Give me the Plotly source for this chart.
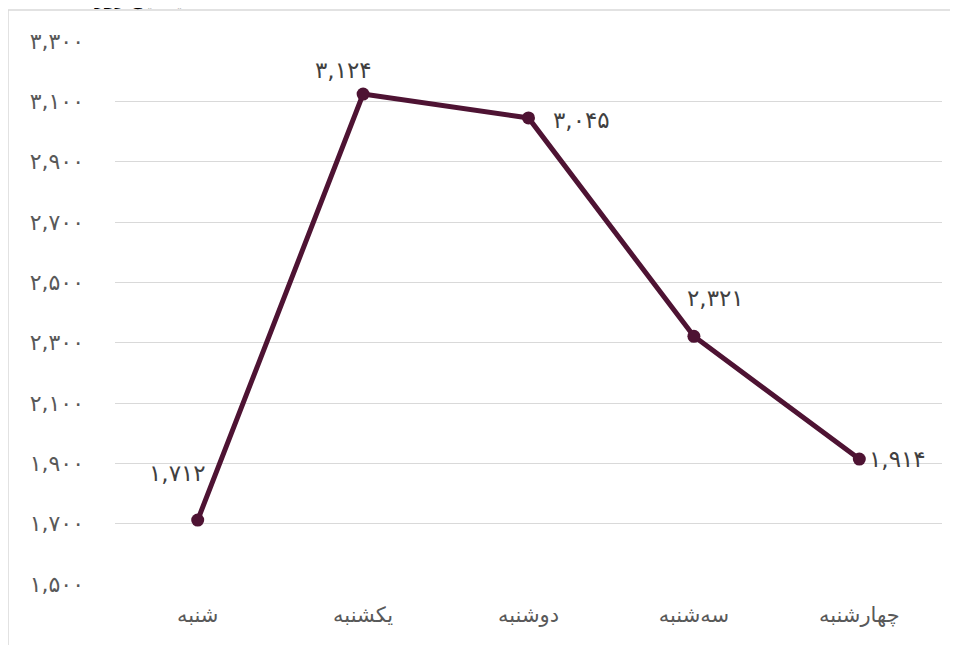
import plotly.graph_objects as go

categories = ["شنبه", "یکشنبه", "دوشنبه", "سه‌شنبه", "چهارشنبه"]
values = [1712, 3124, 3045, 2321, 1914]
y_ticks = [1500, 1700, 1900, 2100, 2300, 2500, 2700, 2900, 3100, 3300]
title_text = "میانگین روزانه ۱۴۰۰"

# label placement (pixel shifts, anchor) per point
label_style = [(-20, 47, "center"), (-20, 24, "center"), (22, -2, "left"),
               (22, 38, "center"), (8, 0, "left")]

FA = str.maketrans("0123456789", "۰۱۲۳۴۵۶۷۸۹")


def fa(n):
    return f"{n:,}".translate(FA)


W, H = 942, 637
L, R, T, B = 107, 8, 33, 61
pw, ph = W - L - R, H - T - B


def px(x):
    return (x - L) / pw


def py(y):
    return (T + ph - y) / ph


fig = go.Figure()
fig.add_trace(go.Scatter(
    x=categories, y=values, mode="lines+markers",
    line=dict(color="#4E1333", width=5),
    marker=dict(color="#4E1333", size=13),
    hoverinfo="skip", showlegend=False,
))

for c, v, (dx, dy, xa) in zip(categories, values, label_style):
    fig.add_annotation(x=c, y=v, text=fa(v), showarrow=False,
                       xshift=dx, yshift=dy, xanchor=xa, yanchor="middle",
                       font=dict(family="DejaVu Sans", size=23, color="#404040"))

# outer frame (left and top edges)
fig.add_shape(type="line", xref="paper", yref="paper",
              x0=px(0), x1=px(W + 20), y0=py(2), y1=py(2),
              line=dict(color="#D9D9D9", width=1.5), layer="below")
fig.add_shape(type="line", xref="paper", yref="paper",
              x0=px(0), x1=px(0), y0=py(2), y1=py(H + 20),
              line=dict(color="#D9D9D9", width=1.5), layer="below")

# title, mostly above the visible area
fig.add_annotation(xref="paper", yref="paper", x=px(15), y=py(4),
                   xanchor="left", yanchor="bottom", showarrow=False,
                   text="<b>" + title_text + "</b>",
                   font=dict(family="DejaVu Sans", size=17, color="#000000"))

fig.update_layout(
    width=W, height=H,
    margin=dict(l=L, r=R, t=T, b=B),
    plot_bgcolor="white", paper_bgcolor="white",
    font=dict(family="DejaVu Sans", color="#595959"),
    xaxis=dict(type="category", range=[-0.5, 4.5], showgrid=False, showline=False,
               ticks="", tickfont=dict(size=21, color="#595959"), zeroline=False,
               ticklabelstandoff=16),
    yaxis=dict(range=[y_ticks[0], y_ticks[-1]], tickvals=y_ticks,
               ticktext=[fa(t) for t in y_ticks], showgrid=True,
               gridcolor="#D9D9D9", gridwidth=1.3, zeroline=False, showline=False,
               ticks="", ticklabelstandoff=30,
               tickfont=dict(size=22, color="#595959")),
)

fig.write_html("out.html")
